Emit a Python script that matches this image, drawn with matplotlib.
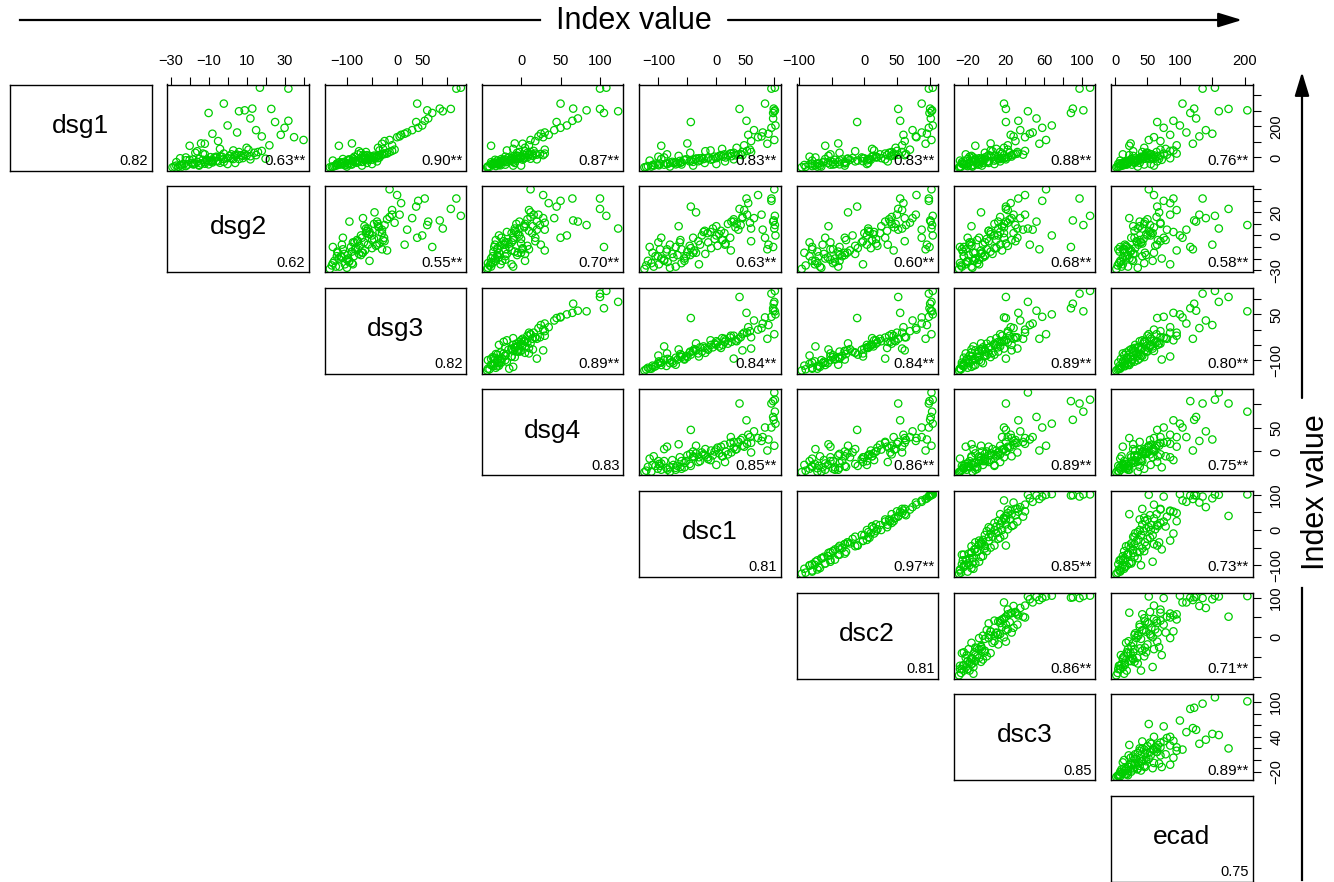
"""
Pairs-style correlation matrix: upper panels scatter, diagonal labels
"""
import numpy as np
import matplotlib.pyplot as plt
from matplotlib.patches import FancyArrowPatch
from matplotlib.lines import Line2D

plt.rcParams['font.family'] = ['Liberation Sans', 'DejaVu Sans']

names = ['dsg1', 'dsg2', 'dsg3', 'dsg4', 'dsc1', 'dsc2', 'dsc3', 'ecad']
diag_values = ['0.82', '0.62', '0.82', '0.83', '0.81', '0.81', '0.85', '0.75']
corr_labels = [
    ['0.63**', '0.90**', '0.87**', '0.83**', '0.83**', '0.88**', '0.76**'],
    ['0.55**', '0.70**', '0.63**', '0.60**', '0.68**', '0.58**'],
    ['0.89**', '0.84**', '0.84**', '0.89**', '0.80**'],
    ['0.85**', '0.86**', '0.89**', '0.75**'],
    ['0.97**', '0.85**', '0.73**'],
    ['0.86**', '0.71**'],
    ['0.89**'],
]

dsg1 = [-63, -55, -60, -48, -58, -45, -52, -40, 75, -50,
        -38, -46, -32, -42, -28, -44, -35, -22, -38, -30,
        -18, -34, 90, -25, -12, -28, -20, -8, -24, -15,
        -4, -18, 40, -10, 0, -14, -6, 5, -10, 2,
        10, -4, 6, 15, 0, 12, 20, 8, 25, 14,
        30, 18, 35, 22, 42, 50,
        62, 105, 78, 130, 88, 145, 160, 112, 175, 190, 135, 205, 227, 152, 235, 250,
        285, 296, 302, 311, 313, 345, 441, 447,
        -40, -58, -20, -45, -10, -52, -30, 5, -35, -15, 20, -42,
        -5, 10, -25, 30, -12, 45, 0, 15, 55, -8, 35, 25]
dsg2 = [-29, -22, -26, -15, -24, -18, -27, -12, -20, -25,
        -14, -21, -8, -23, -16, -10, -19, -6, -17, -12,
        -22, -4, -14, -9, -18, -2, -11, -15, -5, -13,
        0, -8, -16, 3, -6, -11, 2, -3, 6, -9,
        1, 8, -4, 4, -7, 10, 2, 12, -2, 7,
        14, 5, 16, 9, 18, 11,
        10, -5, 22, 35, -12, 28, 5, 40, 15, 30, 18, 0, 25, -8, 32, 12,
        -10, 6, 9, 23, 13, -2, 32, 17,
        -18, -28, -10, -24, -2, -15, -27, -6, 4, -20, -12, 0,
        -25, 8, -8, -17, 12, 3, -22, 15, -4, 20, 6, -13]
dsg3 = [-134, -125, -130, -118, -128, -112, -122, -108, -116, -104,
        -119, -100, -110, -96, -105, -92, -110, -88, -98, -84,
        -95, -80, -90, -75, -86, -70, -82, -68, -78, -64,
        -72, -58, -76, -55, -66, -50, -62, -46, -58, -42,
        -55, -38, -50, -60, -35, -46, -30, -40, -26, -36,
        -20, -30, -15, -25, -10, -5,
        -38, -25, -10, 0, -30, 8, 20, -15, 30, 42, 5, 50, 38, 15, 55, 62,
        70, 91, 60, 107, 85, 40, 118, 127,
        -120, -100, -128, -90, -108, -70, -115, -85, -60, -98, -78, -50,
        -88, -65, -40, -72, -95, -35, -55, -68, -28, -45, -62, -20]
dsg4 = [-43, -32, -40, -28, -42, -36, -10, -30, -38, -26,
        -35, -20, -33, -38, -18, -34, -28, -12, -30, -20,
        -24, -32, -8, -26, -20, -10, -30, -4, -22, -12,
        -2, -20, 5, -6, -16, 2, -12, 0, -8, 8,
        -4, 4, -10, 10, 0, -6, 14, -2, 18, 4,
        8, 20, 12, 24, 16, 30,
        5, 18, 10, 28, 2, 35, 30, 12, 42, 50, 22, 58, 45, 25, 65, 72,
        105, 123, 83, 100, 66, 50, 100, 108,
        -30, -42, -15, -36, -25, 0, -38, -20, -8, -33, 10, -28,
        -12, 15, -22, -5, 20, -18, 5, 28, -10, 12, -2, 30]
dsc1 = [-124, -118, -121, -110, -112, -101, -108, -97, -95, -99,
        -86, -90, -80, -84, -76, -70, -74, -63, -67, -60,
        -55, -62, -50, -46, -52, -40, -44, -35, -31, -38,
        -25, -28, -19, -22, -14, -9, -15, -3, -6, 2,
        5, 0, 11, 8, 16, 20, 14, 26, 24, 33,
        30, 38, 45, 42, 53, 58,
        35, 60, 48, 72, 88, 55, 80, 100, 65, 95, 78, 102, -44, 90, 52, 98,
        98, 100, 101, 40, 99, 84, 95, 101,
        -105, -80, -115, -60, -95, -40, -70, -100, -20, -55, -85, 0,
        -30, -65, 15, -45, 30, -10, -90, 45, 10, -35, 60, 25]
dsc2 = [-96, -80, -90, -92, -72, -84, -68, -80, -60, -76,
        -72, -52, -64, -45, -62, -38, -56, -52, -30, -48,
        -38, -28, -40, -14, -34, -30, -10, -26, -2, -22,
        -18, 4, -14, 8, -4, 10, 0, 18, 6, 20,
        14, 26, 12, 35, 18, 42, 24, 40, 32, 46,
        38, 52, 42, 64, 50, 70,
        48, 62, 58, 80, 94, 60, 88, 103, 74, 99, 79, 105, -11, 96, 55, 102,
        100, 103, 104, 52, 101, 88, 99, 105,
        -70, -66, -80, -48, -60, -30, -40, -84, 6, -45, -52, 4,
        -2, -55, 36, -38, 32, 15, -75, 62, 12, -25, 58, 45]
dsc3 = [-29, -20, -27, -14, -28, -24, -16, -26, -12, -22,
        -25, -8, -18, -21, -6, -24, -4, -16, -19, 0,
        -13, -10, 4, -16, -2, -8, 8, -12, 2, -6,
        12, -4, 6, 14, -2, 10, 18, 0, 12, 22,
        4, 16, 26, 2, 20, 8, 28, 12, 32, 18,
        24, 38, 14, 30, 40, 22,
        18, 30, 22, 40, 55, 25, 48, 62, 35, 58, 28, 68, 20, 45, 33, 52,
        88, 43, 101, 20, 90, 18, 97, 108,
        -24, -15, -28, -10, -20, -5, -26, -18, 2, -12, -22, 8,
        -8, -16, 14, -2, 20, 4, -14, 26, 10, -6, 32, 16]
ecad = [2, 8, 4, 14, 6, 18, 10, 5, 22, 12,
        7, 26, 15, 9, 30, 18, 12, 34, 20, 14,
        28, 38, 24, 17, 42, 30, 21, 46, 33, 25,
        50, 36, 28, 54, 40, 31, 58, 44, 35, 62,
        48, 38, 66, 52, 42, 70, 56, 46, 75, 60,
        50, 80, 64, 54, 85, 70,
        45, 70, 95, 60, 120, 85, 110, 52, 140, 75, 130, 100, 65, 150, 90, 125,
        116, 160, 204, 175, 122, 104, 135, 154,
        15, 35, 8, 45, 25, 60, 20, 40, 30, 72, 12, 55,
        85, 28, 65, 48, 38, 90, 58, 22, 78, 68, 42, 95]

# 顶部刻度 (按列变量)
top_ticks = [[], [-30, -20, -10, 0, 10, 20, 30, 40], [-100, -50, 0, 50, 100], [0, 50, 100],
             [-100, -50, 0, 50, 100], [-100, -50, 0, 50, 100], [-20, 0, 20, 40, 60, 80, 100],
             [0, 50, 100, 150, 200]]
top_labels = [[], ['−30', '', '−10', '', '10', '', '30', ''], ['−100', '', '0', '50', ''],
              ['0', '50', '100'], ['−100', '', '0', '50', ''], ['−100', '', '0', '50', '100'],
              ['−20', '', '20', '', '60', '', '100'], ['0', '50', '100', '', '200']]
# 右侧刻度 (按行变量)
right_ticks = [[0, 100, 200, 300, 400], [-30, -20, -10, 0, 10, 20, 30, 40], [-100, -50, 0, 50, 100],
               [0, 50, 100], [-100, -50, 0, 50, 100], [-100, -50, 0, 50, 100],
               [-20, 0, 20, 40, 60, 80, 100]]
right_labels = [['0', '', '200', '', ''], ['−30', '', '', '0', '', '20', '', ''],
                ['−100', '', '', '50', ''], ['0', '50', ''], ['−100', '', '0', '', '100'],
                ['', '', '0', '', '100'], ['−20', '', '', '40', '', '', '100']]

data = dict(zip(names, [np.array(v, dtype=float) for v in
                        (dsg1, dsg2, dsg3, dsg4, dsc1, dsc2, dsc3, ecad)]))

W, H = 1334, 882
LEFT0, COL_PITCH, PW = 10, 157.3, 141.5
TOP0, ROW_PITCH, PH = 84.5, 101.6, 86
GREEN = '#00cd00'

fig = plt.figure(figsize=(W / 100, H / 100), dpi=100)


def px_axes(x, y, w, h):
    return fig.add_axes([x / W, 1 - (y + h) / H, w / W, h / H])


def padded(v):
    lo, hi = v.min(), v.max()
    pad = 0.04 * (hi - lo)
    return lo - pad, hi + pad


n = len(names)
for i in range(n):
    for j in range(i, n):
        ax = px_axes(LEFT0 + j * COL_PITCH, TOP0 + i * ROW_PITCH, PW, PH)
        for sp in ax.spines.values():
            sp.set_linewidth(1.0)
        ax.set_xticks([])
        ax.set_yticks([])
        if i == j:
            ax.text(0.5, 0.52, names[i], ha='center', va='center', fontsize=19,
                    transform=ax.transAxes)
            ax.text(0.975, 0.03, diag_values[i], ha='right', va='bottom', fontsize=10.5,
                    transform=ax.transAxes)
            continue
        xv = data[names[j]]
        yv = data[names[i]]
        ax.scatter(xv, yv, s=28, facecolors='none', edgecolors=GREEN, linewidths=0.9)
        ax.text(0.975, 0.03, corr_labels[i][j - i - 1], ha='right', va='bottom',
                fontsize=11, transform=ax.transAxes)
        if i == 0:
            ax.set_xticks(top_ticks[j])
            ax.set_xticklabels(top_labels[j])
            ax.tick_params(axis='x', top=True, bottom=False, labeltop=True, labelbottom=False,
                           direction='out', length=6, width=0.8, pad=6, labelsize=10.5)
        if j == n - 1:
            ax.set_yticks(right_ticks[i])
            ax.set_yticklabels(right_labels[i])
            ax.tick_params(axis='y', right=True, left=False, labelright=True, labelleft=False,
                           direction='out', length=6, width=0.8, pad=6, labelsize=10.5,
                           labelrotation=90)
            for t in ax.get_yticklabels():
                t.set_va('center')
        ax.set_xlim(padded(xv))
        ax.set_ylim(padded(yv))


def fx(p):
    return p / W


def fy(p):
    return 1 - p / H


# 外围箭头与标题
fig.add_artist(Line2D([fx(20), fx(540)], [fy(20), fy(20)], color='black', lw=1.6))
fig.text(fx(634), fy(21), 'Index value', ha='center', va='center', fontsize=22)
fig.add_artist(FancyArrowPatch((fx(728), fy(20)), (fx(1242), fy(20)), transform=fig.transFigure,
                               arrowstyle='-|>,head_length=0.72,head_width=0.22',
                               mutation_scale=20, color='black', lw=1.6,
                               shrinkA=0, shrinkB=0))

fig.add_artist(Line2D([fx(1302), fx(1302)], [fy(880), fy(588)], color='black', lw=1.6))
fig.text(fx(1316), fy(492), 'Index value', ha='center', va='center', fontsize=22, rotation=90)
fig.add_artist(FancyArrowPatch((fx(1302), fy(398)), (fx(1302), fy(72)), transform=fig.transFigure,
                               arrowstyle='-|>,head_length=0.72,head_width=0.22',
                               mutation_scale=20, color='black', lw=1.6,
                               shrinkA=0, shrinkB=0))

fig.savefig('out.png', dpi=100)
